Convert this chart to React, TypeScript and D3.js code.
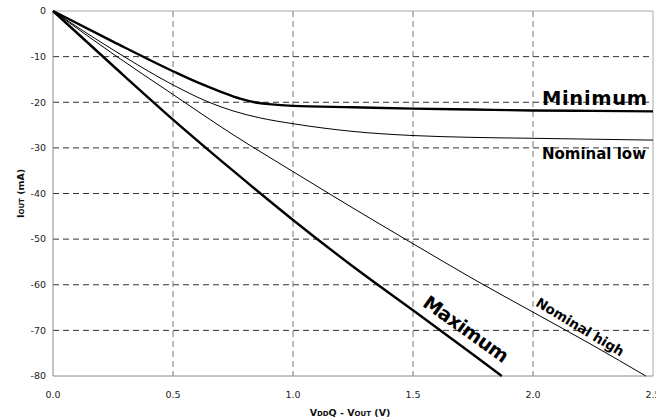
import React from "react";
import * as d3 from "d3";

const W = 656;
const H = 419;
const margin = { left: 53, top: 11, right: 3, bottom: 43 };

const xTicks = [0, 0.5, 1.0, 1.5, 2.0, 2.5];
const xTickLabels = ["0.0", "0.5", "1.0", "1.5", "2.0", "2.5"];
const yTicks = [0, -10, -20, -30, -40, -50, -60, -70, -80];

const maxX = [0, 0.25, 0.5, 0.75, 1.0, 1.25, 1.5, 1.75, 1.87];
const maxY = [0, -12.0, -23.8, -35.0, -45.8, -56.0, -65.6, -75.3, -80];

const nomHighX = [0, 0.25, 0.5, 0.75, 1.0, 1.25, 1.5, 1.75, 2.0, 2.25, 2.47];
const nomHighY = [0, -9.4, -18.3, -27.1, -35.2, -43.2, -51.0, -58.7, -66.0, -73.3, -80];

const nomLowX = [0, 0.25, 0.5, 0.65, 0.75, 0.86, 1.0, 1.25, 1.5, 1.75, 2.0, 2.25, 2.5];
const nomLowY = [0, -8.5, -16.2, -20.0, -21.9, -23.4, -24.7, -26.4, -27.3, -27.7, -27.9, -28.1, -28.3];

const minX = [0, 0.25, 0.5, 0.6, 0.7, 0.78, 0.84, 0.9, 1.0, 1.25, 1.5, 1.75, 2.0, 2.25, 2.5];
const minY = [0, -6.7, -13.2, -15.6, -17.7, -19.2, -20.0, -20.4, -20.8, -21.1, -21.4, -21.6, -21.8, -21.9, -22.0];

export default function App() {
  const x = d3.scaleLinear().domain([0, 2.5]).range([margin.left, W - margin.right]);
  const y = d3.scaleLinear().domain([0, -80]).range([margin.top, H - margin.bottom]);

  const line = d3
    .line<[number, number]>()
    .x((d) => x(d[0]))
    .y((d) => y(d[1]))
    .curve(d3.curveMonotoneX);

  const zip = (xs: number[], ys: number[]) => xs.map((v, i) => [v, ys[i]] as [number, number]);

  const series = [
    { xs: maxX, ys: maxY, w: 2.4 },
    { xs: nomHighX, ys: nomHighY, w: 1 },
    { xs: nomLowX, ys: nomLowY, w: 1 },
    { xs: minX, ys: minY, w: 2.4 },
  ];

  const x0 = x(0);
  const x1 = x(2.5);
  const y0 = y(0);
  const y1 = y(-80);
  const font = "'DejaVu Sans', Verdana, sans-serif";

  return (
    <svg width={W} height={H} style={{ position: "absolute", left: 0, top: 0 }} fontFamily={font}>
      <rect width={W} height={H} fill="#fff" />
      {yTicks.slice(1, -1).map((t) => (
        <line key={"hy" + t} x1={x0} x2={x1} y1={y(t)} y2={y(t)} stroke="#333" strokeWidth={1} strokeDasharray="6,4" />
      ))}
      {xTicks.slice(1, -1).map((t) => (
        <line key={"vx" + t} x1={x(t)} x2={x(t)} y1={y0} y2={y1} stroke="#777" strokeWidth={1} strokeDasharray="6,4" />
      ))}
      <line x1={x0} x2={x1} y1={y0} y2={y0} stroke="#aaa" strokeWidth={1} />
      <line x1={x1} x2={x1} y1={y0} y2={y1} stroke="#aaa" strokeWidth={1} />
      <line x1={x0} x2={x0} y1={y0} y2={y1} stroke="#888" strokeWidth={1} />
      <line x1={x0} x2={x1} y1={y1} y2={y1} stroke="#888" strokeWidth={1} />

      {series.map((s, i) => (
        <path key={i} d={line(zip(s.xs, s.ys)) || ""} fill="none" stroke="#000" strokeWidth={s.w} strokeLinejoin="round" />
      ))}

      {yTicks.map((t) => (
        <text key={"yl" + t} x={x0 - 7} y={y(t)} dy="0.35em" textAnchor="end" fontSize={9.5} fill="#222">
          {t}
        </text>
      ))}
      {xTicks.map((t, i) => (
        <text key={"xl" + t} x={x(t)} y={y1 + 22} textAnchor="middle" fontSize={9.5} fill="#222">
          {xTickLabels[i]}
        </text>
      ))}

      <text x={350} y={416} textAnchor="middle" fontSize={9.5} fontWeight="bold" fill="#111">
        V<tspan fontSize={7}>DD</tspan>Q - V<tspan fontSize={7}>OUT</tspan> (V)
      </text>
      <text transform={`translate(24,${(y0 + y1) / 2}) rotate(-90)`} textAnchor="middle" fontSize={9.5} fontWeight="bold" fill="#111">
        I<tspan fontSize={7}>OUT</tspan> (mA)
      </text>

      <text x={542} y={105} fontSize={19.5} fontWeight="bold" textLength={105} lengthAdjust="spacing">
        Minimum
      </text>
      <text x={542} y={159} fontSize={15} fontWeight="bold" textLength={104} lengthAdjust="spacing">
        Nominal low
      </text>
      <text transform="translate(466,329) rotate(35.5)" textAnchor="middle" dy="0.35em" fontSize={19} fontWeight="bold" textLength={100} lengthAdjust="spacing">
        Maximum
      </text>
      <text transform="translate(580,327) rotate(31)" textAnchor="middle" dy="0.35em" fontSize={13.5} fontWeight="bold" textLength={100} lengthAdjust="spacing">
        Nominal high
      </text>
    </svg>
  );
}
